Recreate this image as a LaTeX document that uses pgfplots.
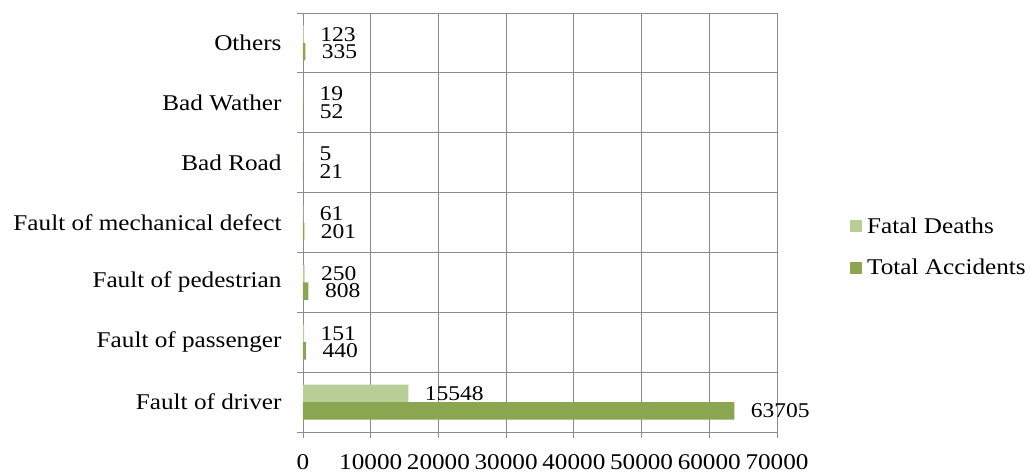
\documentclass[border=0pt]{standalone}
\usepackage{pgfplots}
\pgfplotsset{compat=1.18}
\usepackage{fontspec}
\setmainfont[FakeStretch=1.12]{Liberation Serif}
\definecolor{lightg}{RGB}{185,206,151}
\definecolor{darkg}{RGB}{138,166,80}
\definecolor{gridg}{RGB}{140,140,140}
\begin{document}
\begin{tikzpicture}
\path[use as bounding box] (-303pt,-43pt) rectangle (727pt,432pt);
\begin{axis}[
  scale only axis,
  width=474pt, height=419pt,
  xmin=0, xmax=70000,
  ymin=-0.5, ymax=6.5,
  xbar,
  bar width=17.5pt,
  clip=false,
  scaled x ticks=false,
  /pgf/number format/1000 sep={},
  /pgf/number format/assume math mode=true,
  xtick={0,10000,...,70000},
  ytick={0,1,2,3,4,5,6},
  yticklabels={Fault of driver,Fault of passenger,Fault of pedestrian,Fault of mechanical defect,Bad Road,Bad Wather,Others},
  minor ytick={-0.5,0.5,...,6.5},
  xmajorgrids, yminorgrids, ymajorgrids=false,
  grid style={gridg, line width=0.8pt},
  minor grid style={gridg, line width=0.8pt},
  axis line style={gridg, line width=0.8pt},
  tick align=outside,
  major tick length=6pt, minor tick length=6pt,
  every tick/.style={gridg, line width=0.8pt},
  every major y tick/.style={draw=none},
  xtick pos=bottom, ytick pos=left,
  tick label style={font=\fontsize{22.5}{26}\selectfont, text=black},
  xticklabel style={yshift=-13pt},
  yticklabel style={xshift=-12pt},
  nodes near coords,
  every node near coord/.append style={font=\fontsize{21}{24}\selectfont, anchor=west, xshift=13pt, text=black},
  legend style={draw=none, at={(1.154,0.4415)}, anchor=west, inner sep=0pt,
    font=\fontsize{22.5}{26}\selectfont, row sep=20pt,
    /tikz/every even column/.append style={column sep=0pt}},
  legend cell align=left,
  legend image code/.code={\fill[#1,draw=none] (0pt,-6pt) rectangle (12pt,6pt);},
]
\addplot[fill=lightg, draw=none, bar shift=8.75pt] coordinates {
  (15548,0) (151,1) (250,2) (61,3) (5,4) (19,5) (123,6)};
\addplot[fill=darkg, draw=none, bar shift=-8.75pt] coordinates {
  (63705,0) (440,1) (808,2) (201,3) (21,4) (52,5) (335,6)};
\legend{\hspace{3pt}Fatal Deaths, \hspace{3pt}Total Accidents}
\end{axis}
\end{tikzpicture}
\end{document}
